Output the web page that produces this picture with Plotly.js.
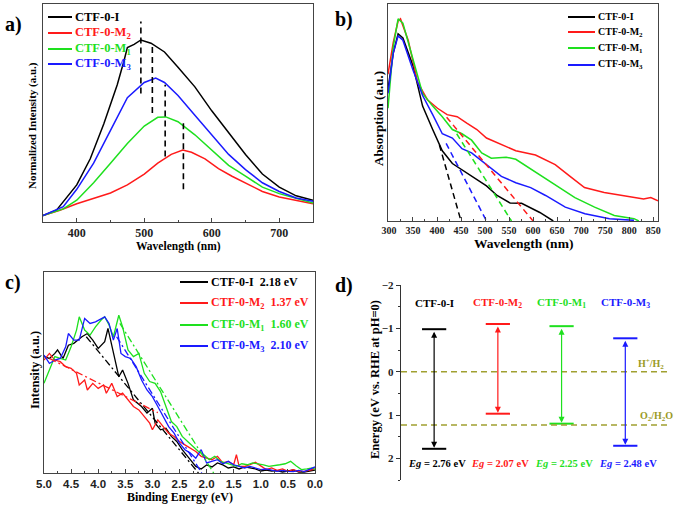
<!DOCTYPE html>
<html><head><meta charset="utf-8">
<script src="https://cdn.plot.ly/plotly-3.0.1.min.js"></script>
<style>html,body{margin:0;padding:0;background:#fff}#chart{width:675px;height:511px}</style>
</head><body><div id="chart"></div>
<script>
// ---------- shared ----------
const seriesNames = ['CTF-0-I','CTF-0-M<sub>2</sub>','CTF-0-M<sub>1</sub>','CTF-0-M<sub>3</sub>'];
const seriesColors = ['#000000','#ff1a1a','#1ee01e','#1a1aff'];

// ---------- panel a : PL spectra ----------
const aBlackX = [350,370,400,420,440,460,470,475,485,495,510,530,550,575,600,625,650,675,700,725,750];
const aBlackY = [0.03,0.054,0.17,0.29,0.45,0.63,0.74,0.80,0.815,0.835,0.82,0.78,0.71,0.62,0.51,0.41,0.31,0.22,0.16,0.12,0.10];
const aRedX = [350,375,400,425,450,475,500,520,540,557,570,590,610,630,650,675,700,725,750];
const aRedY = [0.03,0.054,0.084,0.107,0.133,0.17,0.22,0.27,0.31,0.33,0.32,0.29,0.245,0.21,0.18,0.14,0.115,0.10,0.084];
const aGreenX = [350,380,400,425,450,475,500,520,532,550,575,600,625,650,675,700,725,750];
const aGreenY = [0.03,0.06,0.10,0.18,0.27,0.36,0.44,0.48,0.482,0.46,0.40,0.33,0.26,0.21,0.16,0.13,0.11,0.087];
const aBlueX = [350,380,400,425,450,475,500,517,530,550,575,600,625,650,675,700,725,750];
const aBlueY = [0.03,0.07,0.15,0.27,0.42,0.57,0.64,0.66,0.64,0.58,0.49,0.40,0.31,0.24,0.18,0.14,0.11,0.095];
const aPeakX = [495,512,531,558];
const aPeakLo = [0.59,0.50,0.30,0.15];
const aPeakHi = [0.92,0.82,0.63,0.46];

// ---------- panel b : UV-vis ----------
const bBlackX = [298,309,319,329,350,370,391,411,432,452,472,503,525,552,576,614,642];
const bBlackY = [0.62,0.79,0.88,0.86,0.73,0.54,0.43,0.33,0.27,0.24,0.21,0.165,0.12,0.085,0.083,0.04,0];
const bRedX = [298,309,319,324,340,360,380,401,421,442,462,483,503,534,564,605,646,677,707,748,789,830,845,860];
const bRedY = [0.69,0.84,0.94,0.95,0.85,0.65,0.57,0.53,0.50,0.49,0.46,0.43,0.39,0.36,0.33,0.31,0.265,0.21,0.157,0.134,0.118,0.103,0.11,0.095];
const bGreenX = [298,309,319,329,350,370,391,411,432,452,472,493,513,544,564,605,646,687,728,769,810,820];
const bGreenY = [0.53,0.82,0.95,0.93,0.76,0.60,0.54,0.49,0.43,0.41,0.38,0.32,0.295,0.30,0.29,0.23,0.17,0.11,0.065,0.026,0.011,0];
const bBlueX = [298,309,319,329,350,370,391,411,432,452,472,503,534,564,595,626,667,708,759,810];
const bBlueY = [0.60,0.79,0.87,0.85,0.71,0.59,0.50,0.41,0.39,0.34,0.32,0.265,0.21,0.18,0.157,0.12,0.065,0.034,0.011,0.003];
// tangent extrapolations: start wavelength, start value, end wavelength (value 0)
const bFitStartX = [405,420,441,419];
const bFitStartY = [0.357,0.488,0.41,0.365];
const bFitEndX = [450,600,555,503];

// ---------- panel c : VB-XPS ----------
const cBlackX = [5.0,4.9,4.8,4.75,4.65,4.55,4.45,4.3,4.2,4.1,4.0,3.95,3.88,3.82,3.72,3.62,3.55,3.45,3.35,3.2,3.1,3.0,2.95,2.85,2.75,2.65,2.55,2.45,2.35,2.25,2.2,2.1,2.0,1.9,1.8,1.7,1.6,1.5,1.4,1.3,1.2,1.1,1.0,0.9,0.8,0.7,0.6,0.5,0.4,0.3,0.2,0.1,0.0];
const cBlackY = [0.579,0.570,0.595,0.612,0.570,0.636,0.645,0.678,0.694,0.661,0.620,0.636,0.653,0.719,0.595,0.479,0.512,0.446,0.364,0.331,0.298,0.322,0.248,0.215,0.223,0.182,0.157,0.116,0.083,0.050,0.033,0.02,0.04,0.03,0.05,0.04,0.025,0.03,0.02,0.03,0.025,0.02,0.01,0.015,0.01,0.012,0.005,0.01,0.015,0.005,0.005,0.01,0.015];
const cRedX = [5.0,4.9,4.8,4.7,4.6,4.5,4.4,4.35,4.25,4.2,4.1,4.0,3.9,3.85,3.75,3.65,3.55,3.45,3.35,3.25,3.15,3.05,3.0,2.9,2.8,2.7,2.6,2.5,2.4,2.3,2.2,2.1,2.0,1.9,1.8,1.7,1.6,1.5,1.45,1.4,1.3,1.2,1.1,1.0,0.9,0.8,0.7,0.6,0.5,0.4,0.3,0.2,0.1,0.0];
const cRedY = [0.562,0.595,0.562,0.554,0.529,0.521,0.496,0.438,0.463,0.413,0.446,0.421,0.438,0.397,0.446,0.380,0.397,0.364,0.331,0.314,0.281,0.248,0.215,0.264,0.231,0.198,0.182,0.157,0.140,0.124,0.107,0.083,0.074,0.066,0.083,0.050,0.058,0.041,0.091,0.033,0.033,0.041,0.053,0.033,0.017,0.025,0.013,0.020,0.008,0.017,0.008,0.008,0.013,0.020];
const cGreenX = [5.0,4.9,4.8,4.7,4.6,4.5,4.4,4.35,4.25,4.15,4.05,3.95,3.88,3.8,3.72,3.62,3.55,3.45,3.35,3.25,3.15,3.05,2.95,2.85,2.75,2.65,2.55,2.45,2.35,2.25,2.15,2.05,1.95,1.85,1.75,1.65,1.55,1.45,1.35,1.25,1.15,1.05,0.95,0.85,0.75,0.65,0.55,0.45,0.35,0.25,0.15,0.05,0.0];
const cGreenY = [0.446,0.512,0.579,0.570,0.562,0.628,0.711,0.777,0.711,0.686,0.727,0.760,0.777,0.736,0.678,0.785,0.727,0.612,0.579,0.595,0.496,0.455,0.446,0.405,0.331,0.256,0.231,0.182,0.157,0.132,0.107,0.091,0.066,0.083,0.058,0.050,0.041,0.033,0.046,0.041,0.050,0.046,0.041,0.033,0.036,0.041,0.046,0.058,0.036,0.017,0.020,0.025,0.017];
const cBlueX = [5.0,4.9,4.8,4.7,4.6,4.55,4.45,4.35,4.25,4.15,4.05,3.95,3.88,3.8,3.72,3.65,3.58,3.5,3.4,3.3,3.2,3.1,3.0,2.9,2.8,2.7,2.6,2.5,2.4,2.3,2.2,2.1,2.0,1.9,1.8,1.7,1.6,1.5,1.4,1.3,1.2,1.1,1.0,0.9,0.8,0.7,0.6,0.5,0.4,0.3,0.2,0.1,0.0];
const cBlueY = [0.587,0.545,0.562,0.570,0.628,0.694,0.661,0.661,0.769,0.744,0.752,0.769,0.777,0.744,0.661,0.719,0.595,0.579,0.570,0.529,0.463,0.413,0.380,0.331,0.281,0.231,0.198,0.149,0.116,0.099,0.074,0.116,0.050,0.058,0.066,0.046,0.058,0.041,0.033,0.025,0.033,0.025,0.017,0.020,0.013,0.008,0.013,0.008,0.007,0.013,0.007,0.017,0.030];
const cEdge = ['2.18 eV','1.37 eV','1.60 eV','2.10 eV'];
const cFitStartX = [4.22,4.9,3.60,3.66];
const cFitStartY = [0.678,0.57,0.744,0.678];
const cFitEndX = [2.15,2.9,1.87,2.09];
const cFitEndY = [0,0.30,0,0];

// ---------- panel d : band positions ----------
const dCB = [-0.98,-1.10,-1.05,-0.77];
const dVB = [1.78,0.97,1.20,1.71];
const dEg = ['2.76','2.07','2.25','2.48'];
const dRedox = [0,1.23];
const dRedoxLabels = ['H<sup>+</sup>/H<sub>2</sub>','O<sub>2</sub>/H<sub>2</sub>O'];

// ---------- build ----------
const W=675,H=511;
const px=x=>x/W, py=y=>1-y/H;
const serif='Liberation Serif, Times New Roman, serif';
const sans='Liberation Sans, Arial, sans-serif';
const traces=[], shapes=[], ann=[];

function line(x,y,color,xa,ya,dash,w){
  traces.push({type:'scatter',mode:'lines',x:x,y:y,xaxis:xa,yaxis:ya,
    line:{color:color,width:w||1.5,dash:dash||'solid'},hoverinfo:'skip'});
}
const aX=[aBlackX,aRedX,aGreenX,aBlueX], aY=[aBlackY,aRedY,aGreenY,aBlueY];
for(let i=0;i<4;i++) line(aX[i],aY[i],seriesColors[i],'x','y');
for(let i=0;i<4;i++) line([aPeakX[i],aPeakX[i]],[aPeakLo[i],aPeakHi[i]],'#000','x','y','6px,4px',1.6);

const bX=[bBlackX,bRedX,bGreenX,bBlueX], bY=[bBlackY,bRedY,bGreenY,bBlueY];
for(let i=0;i<4;i++) line(bX[i],bY[i],seriesColors[i],'x2','y2');
for(let i=0;i<4;i++) line([bFitStartX[i],bFitEndX[i]],[bFitStartY[i],0],seriesColors[i],'x2','y2','6px,4px',1.5);

const cX=[cBlackX,cRedX,cGreenX,cBlueX], cY=[cBlackY,cRedY,cGreenY,cBlueY];
for(let i=0;i<4;i++) line(cX[i],cY[i],seriesColors[i],'x3','y3',null,1.3);
for(let i=0;i<4;i++) line([cFitStartX[i],cFitEndX[i]],[cFitStartY[i],cFitEndY[i]],seriesColors[i],'x3','y3','7px,3px,2px,3px',1.3);

// panel d
const half=0.19;
for(let i=0;i<4;i++){
  line([i-half,i+half],[dCB[i],dCB[i]],seriesColors[i],'x4','y4',null,2);
  line([i-half,i+half],[dVB[i],dVB[i]],seriesColors[i],'x4','y4',null,2);
  ann.push({xref:'x4',yref:'y4',axref:'x4',ayref:'y4',x:i,y:dVB[i],ax:i,ay:dCB[i],
    text:'',showarrow:true,arrowside:'end+start',arrowhead:2,arrowsize:1,arrowwidth:1.2,
    arrowcolor:seriesColors[i],standoff:1,startstandoff:1});
  ann.push({xref:'x4',yref:'y4 domain',x:i,y:0.908,xanchor:'center',yanchor:'middle',text:seriesNames[i],showarrow:false,
    font:{family:serif,size:11,weight:'bold',color:seriesColors[i]}});
  ann.push({xref:'x4',yref:'y4 domain',x:i+0.04,y:0.087,xanchor:'center',yanchor:'middle',text:'<i>Eg</i> = '+dEg[i]+' eV',showarrow:false,
    font:{family:serif,size:10.5,weight:'bold',color:seriesColors[i]}});
}
for(let k=0;k<2;k++){
  shapes.push({type:'line',xref:'x4 domain',yref:'y4',x0:0,x1:0.975,y0:dRedox[k],y1:dRedox[k],
    line:{color:'#a0a030',width:1.5,dash:'6px,4px'}});
}
ann.push({xref:'paper',yref:'paper',x:px(651),y:py(364),xanchor:'center',yanchor:'middle',text:dRedoxLabels[0],showarrow:false,
  font:{family:serif,size:10,weight:'bold',color:'#9a9a25'}});
ann.push({xref:'paper',yref:'paper',x:px(675),y:py(416),xanchor:'right',yanchor:'middle',text:dRedoxLabels[1],showarrow:false,
  font:{family:serif,size:10,weight:'bold',color:'#9a9a25'}});

// legends (line sample + label)
function legend(x0,x1,ys,labels,size,family,lw,textColors){
  for(let i=0;i<labels.length;i++){
    shapes.push({type:'line',xref:'paper',yref:'paper',x0:px(x0),x1:px(x1),y0:py(ys[i]),y1:py(ys[i]),
      line:{color:seriesColors[i],width:lw}});
    ann.push({xref:'paper',yref:'paper',x:px(x1+1),y:py(ys[i]),xanchor:'left',yanchor:'middle',
      text:labels[i],showarrow:false,font:{family:family,size:size,weight:'bold',color:textColors[i]}});
  }
}
legend(48,72,[17,33,49,64],seriesNames,12.5,serif,2,seriesColors);
legend(568,595,[17,32,48,65],seriesNames,10,serif,2,['#000','#000','#000','#000']);
legend(180,208,[282,303,325,346],seriesNames.map((s,i)=>s+'  '+cEdge[i]),12,serif,2,seriesColors);

// titles and panel labels
function title(t,x,y,ang,size,fam){
  ann.push({xref:'paper',yref:'paper',x:px(x),y:py(y),xanchor:'center',yanchor:'middle',text:t,showarrow:false,textangle:ang||0,
    font:{family:fam||serif,size:size,weight:'bold',color:'#000'}});
}
title('Wavelength (nm)',178,246,0,11.5);
title('Normalized Intensity (a.u.)',32,126,-90,11);
title('Wavelength (nm)',523,243,0,13.5);
title('Absorption (a.u.)',378,119,-90,13);
title('Binding Energy (eV)',180,497,0,12);
title('Intensity (a.u.)',35,370,-90,12.5);
title('Energy (eV vs. RHE at pH=0)',375,380,-90,12.5);
title('a)',13,24,0,20);
title('b)',344,19,0,20);
title('c)',13,282,0,20);
title('d)',344,285,0,20);

const boxAxis = (extra)=>Object.assign({showline:true,mirror:true,linecolor:'#444',linewidth:1,
  showgrid:false,zeroline:false,ticks:'inside',ticklen:4,tickcolor:'#444'},extra);

const layout={
  width:W,height:H,margin:{l:0,r:0,t:0,b:0},paper_bgcolor:'#fff',plot_bgcolor:'rgba(0,0,0,0)',
  showlegend:false,
  xaxis:boxAxis({domain:[px(43),px(313)],range:[350,750],anchor:'y',tickvals:[400,500,600,700],
    minor:{ticks:'inside',ticklen:2,dtick:50,tick0:350,tickcolor:'#444'},
    tickfont:{family:serif,size:12,weight:'bold',color:'#222'}}),
  yaxis:boxAxis({domain:[py(222),py(4)],range:[0,1],anchor:'x',showticklabels:false,ticks:''}),
  xaxis2:boxAxis({domain:[px(388),px(658)],range:[298,860],anchor:'y2',dtick:50,tick0:300,
    minor:{ticks:'inside',ticklen:2,dtick:25,tick0:300,tickcolor:'#444'},
    tickfont:{family:serif,size:10,weight:'bold',color:'#222'}}),
  yaxis2:boxAxis({domain:[py(221),py(4)],range:[0,1.02],anchor:'x2',showticklabels:false,ticks:''}),
  xaxis3:boxAxis({domain:[px(44),px(315)],range:[5.0,0.0],anchor:'y3',dtick:0.5,tickformat:'.1f',
    minor:{ticks:'inside',ticklen:2,dtick:0.25,tickcolor:'#444'},
    tickfont:{family:sans,size:11.5,weight:'bold',color:'#222'}}),
  yaxis3:boxAxis({domain:[py(473),py(272)],range:[0,1],anchor:'x3',showticklabels:false,ticks:''}),
  xaxis4:{domain:[px(401),1],range:[-0.52,3.78],anchor:'y4',visible:false},
  yaxis4:{domain:[py(480),py(285)],range:[2.5,-2],anchor:'x4',showline:true,linecolor:'#333',linewidth:1.3,
    showgrid:false,zeroline:false,ticks:'outside',ticklen:4,tickcolor:'#333',tickvals:[-2,-1,0,1,2],
    minor:{ticks:'outside',ticklen:2,dtick:0.5,tick0:0,tickcolor:'#333'},
    tickfont:{family:serif,size:11,weight:'bold',color:'#222'}},
  shapes:shapes,annotations:ann
};
Plotly.newPlot('chart',traces,layout,{staticPlot:true});
</script></body></html>
